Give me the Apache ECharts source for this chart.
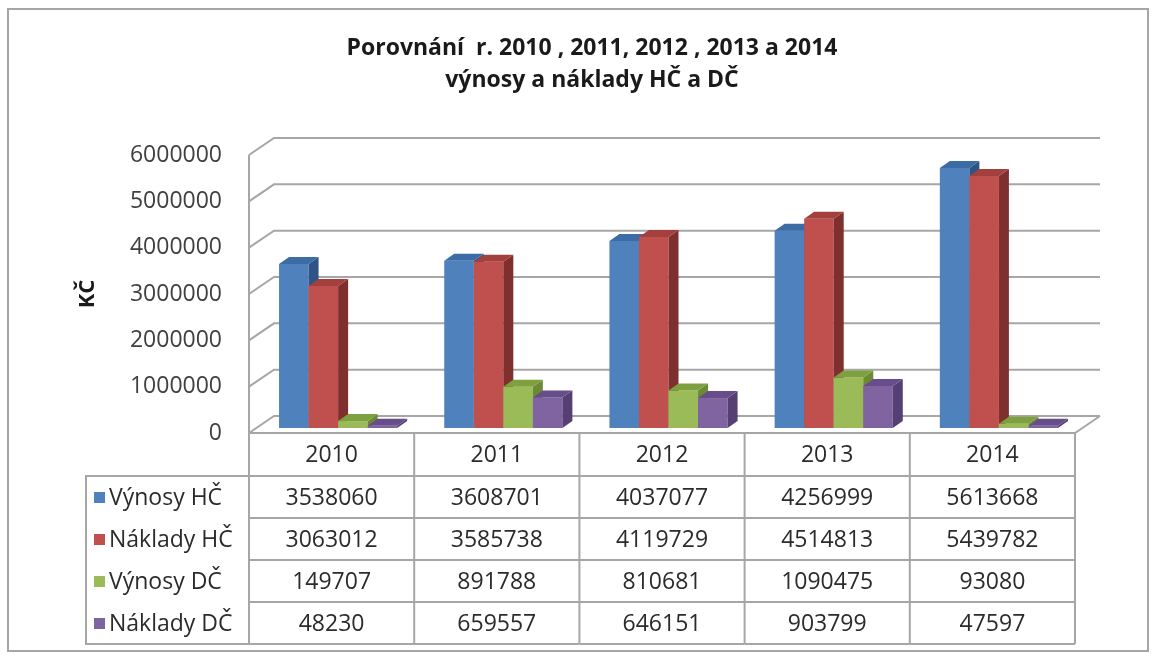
<!DOCTYPE html>
<html>
<head>
<meta charset="utf-8">
<script src="https://cdn.jsdelivr.net/npm/echarts@6/dist/echarts.min.js"></script>
<style>
html, body { margin: 0; padding: 0; background: #fff; }
#chart { width: 1155px; height: 662px; }
</style>
</head>
<body>
<div id="chart"></div>
<script>
var years = ['2010', '2011', '2012', '2013', '2014'];
var seriesNames = ['Výnosy HČ', 'Náklady HČ', 'Výnosy DČ', 'Náklady DČ'];
var vynosyHC = [3538060, 3608701, 4037077, 4256999, 5613668];
var nakladyHC = [3063012, 3585738, 4119729, 4514813, 5439782];
var vynosyDC = [149707, 891788, 810681, 1090475, 93080];
var nakladyDC = [48230, 659557, 646151, 903799, 47597];
var yTicks = [0, 1000000, 2000000, 3000000, 4000000, 5000000, 6000000];

var allValues = [vynosyHC, nakladyHC, vynosyDC, nakladyDC];
// front, side, top colours per series
var colors = [
	['#4F81BD', '#2E5487', '#3C6BA6'],
	['#C0504D', '#7F2F2D', '#A3403D'],
	['#9BBB59', '#6A8A33', '#7FA03F'],
	['#8064A2', '#553F73', '#674E8A']
];

var FONT = '"Open Sans", "Noto Sans", sans-serif';
var DX = 25, DY = 17;      // depth of the 3d walls
var BDX = 10, BDY = 7;     // depth of a bar
var LINE = '#A6A6A6';
var TEXT = '#2b2b2b';
var ROW_H = 42;
var TABLE_TOP = 476;

var myChart = echarts.init(document.getElementById('chart'));

function wallItem(params, api) {
	var cs = params.coordSys;
	var val = api.value(0);
	var y = api.coord([0, val])[1];
	var x0 = cs.x, x1 = cs.x + cs.width;
	var children = [{
		type: 'polyline',
		shape: { points: [[x0, y], [x0 + DX, y - DY], [x1 + DX, y - DY]] },
		style: { stroke: LINE, lineWidth: 2, fill: null }
	}];
	if (val === 0) {
		children.push({
			type: 'polyline',
			shape: { points: [[x0, y], [x1, y], [x1 + DX, y - DY]] },
			style: { stroke: LINE, lineWidth: 2, fill: null }
		});
		children.push({
			type: 'line',
			shape: { x1: x0, y1: cs.y, x2: x0, y2: y },
			style: { stroke: LINE, lineWidth: 2 }
		});
	}
	return { type: 'group', children: children };
}

function barSeries(s) {
	return {
		type: 'custom',
		name: seriesNames[s],
		data: years.map(function (y, i) { return [i, allValues[s][i]]; }),
		renderItem: function (params, api) {
			var c = api.coord([api.value(0), 0]);
			var t = api.coord([api.value(0), api.value(1)]);
			var slot = api.size([1, 0])[0];
			var bw = slot * 29.5 / 165;
			var left = c[0] - slot / 2 + slot * 30 / 165 + s * bw;
			var right = left + bw;
			var bottom = c[1] - 5;
			var top = t[1] - 5;
			var col = colors[s];
			return {
				type: 'group',
				children: [{
					type: 'polygon',
					shape: { points: [[left, bottom], [left, top], [right, top], [right, bottom]] },
					style: { fill: col[0] }
				}, {
					type: 'polygon',
					shape: { points: [[right, bottom], [right, top], [right + BDX, top - BDY], [right + BDX, bottom - BDY]] },
					style: { fill: col[1] }
				}, {
					type: 'polygon',
					shape: { points: [[left, top], [left + BDX, top - BDY], [right + BDX, top - BDY], [right, top]] },
					style: { fill: col[2] }
				}]
			};
		}
	};
}

function tableItem(params, api) {
	var i = api.value(0);
	var c = api.coord([i, 0]);
	var slot = api.size([1, 0])[0];
	var xl = c[0] - slot / 2, xr = c[0] + slot / 2;
	var floorY = c[1];
	var bottom = TABLE_TOP + ROW_H * 4;
	var children = [];
	children.push({ type: 'line', shape: { x1: xr, y1: floorY, x2: xr, y2: bottom }, style: { stroke: LINE, lineWidth: 2 } });
	if (i === 0) {
		children.push({ type: 'line', shape: { x1: xl, y1: floorY, x2: xl, y2: bottom }, style: { stroke: LINE, lineWidth: 2 } });
	}
	for (var r = 0; r <= 4; r++) {
		var ly = TABLE_TOP + r * ROW_H;
		children.push({ type: 'line', shape: { x1: xl, y1: ly, x2: xr, y2: ly }, style: { stroke: LINE, lineWidth: 2 } });
	}
	children.push({
		type: 'text',
		style: { x: c[0], y: (floorY + TABLE_TOP) / 2 + 1, text: years[i], textAlign: 'center', textVerticalAlign: 'middle', fill: TEXT, font: '23px ' + FONT }
	});
	for (var s = 0; s < 4; s++) {
		children.push({
			type: 'text',
			style: { x: c[0], y: TABLE_TOP + s * ROW_H + ROW_H / 2 + 1, text: String(allValues[s][i]), textAlign: 'center', textVerticalAlign: 'middle', fill: TEXT, font: '23px ' + FONT }
		});
	}
	return { type: 'group', children: children };
}

// legend column of the data table
var legendGraphics = [{
	type: 'rect',
	shape: { x: 86, y: TABLE_TOP, width: 163, height: ROW_H * 4 },
	style: { fill: null, stroke: LINE, lineWidth: 2 }
}];
seriesNames.forEach(function (name, s) {
	var cy = TABLE_TOP + s * ROW_H + ROW_H / 2;
	legendGraphics.push({
		type: 'rect',
		shape: { x: 94, y: cy - 5, width: 11, height: 11 },
		style: { fill: colors[s][0] }
	});
	legendGraphics.push({
		type: 'text',
		style: { x: 109, y: cy + 1, text: name, textVerticalAlign: 'middle', fill: TEXT, font: '23px ' + FONT }
	});
});
legendGraphics.push({
	type: 'rect',
	shape: { x: 8, y: 9, width: 1140, height: 642 },
	style: { fill: null, stroke: '#A6A6A6', lineWidth: 2 }
});

var series = [{
	type: 'custom',
	name: 'walls',
	data: yTicks.map(function (v) { return [v]; }),
	encode: { y: 0 },
	renderItem: wallItem,
	silent: true
}];
for (var s = 0; s < 4; s++) {
	series.push(barSeries(s));
}
series.push({
	type: 'custom',
	name: 'table',
	data: years.map(function (y, i) { return [i]; }),
	encode: { x: 0 },
	renderItem: tableItem,
	silent: true
});

myChart.setOption({
	animation: false,
	title: {
		text: 'Porovnání  r. 2010 , 2011, 2012 , 2013 a 2014\nvýnosy a náklady HČ a DČ',
		left: 587,
		top: 27,
		textAlign: 'center',
		textStyle: { fontFamily: FONT, fontSize: 23, fontWeight: 'bold', color: '#1a1a1a', lineHeight: 32 }
	},
	grid: { left: 249, top: 155, width: 826, height: 278 },
	xAxis: {
		type: 'category',
		data: years,
		axisLabel: { show: false },
		axisLine: { show: false },
		axisTick: { show: false }
	},
	yAxis: {
		type: 'value',
		min: 0,
		max: 6000000,
		interval: 1000000,
		name: 'KČ',
		nameLocation: 'middle',
		nameRotate: 90,
		nameGap: 150,
		nameTextStyle: { fontFamily: FONT, fontSize: 22, fontWeight: 'bold', color: '#1a1a1a' },
		axisLabel: {
			margin: 27, fontFamily: FONT, fontSize: 23, color: '#404040',
			formatter: function (v) { return String(v); }
		},
		axisLine: { show: false },
		axisTick: { show: false },
		splitLine: { show: false }
	},
	graphic: legendGraphics,
	series: series
});
</script>
</body>
</html>
